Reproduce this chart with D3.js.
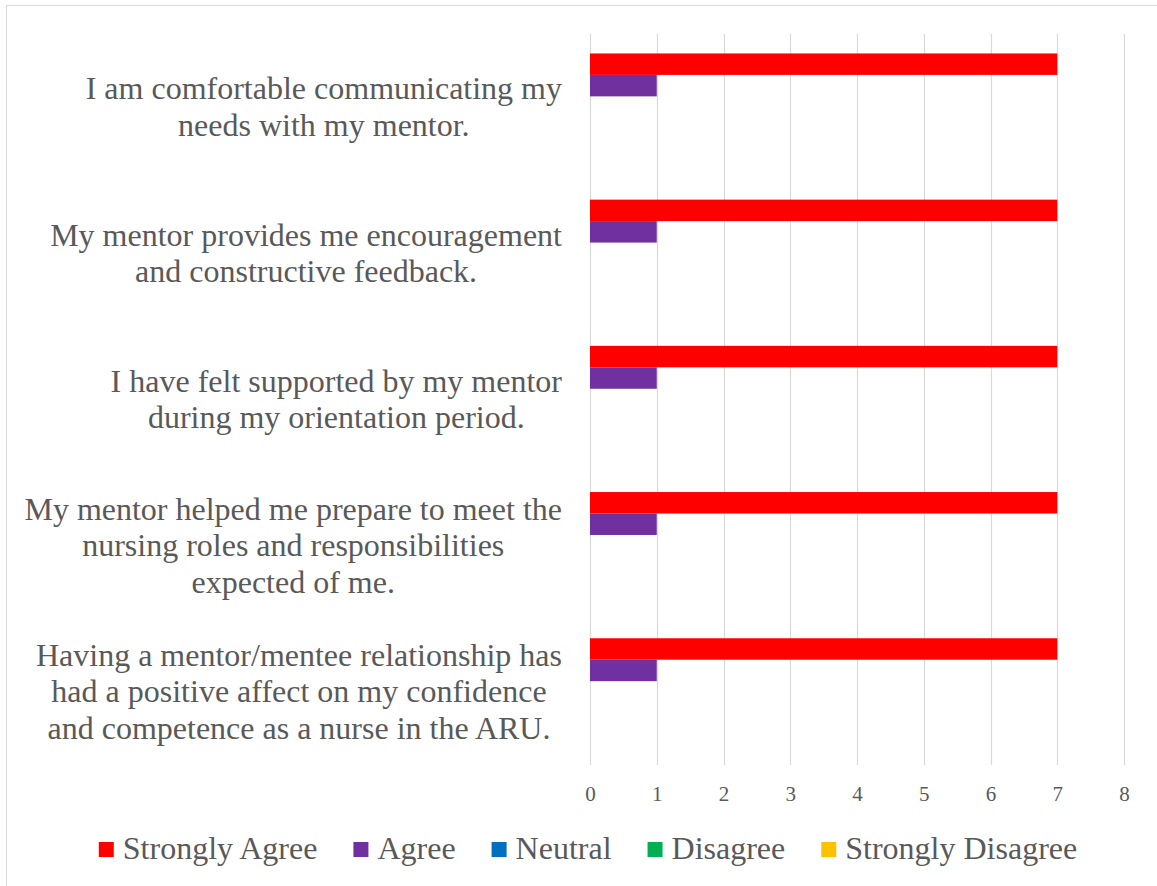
<!DOCTYPE html>
<html>
<head>
<meta charset="utf-8">
<script src="https://cdn.jsdelivr.net/npm/d3@7/dist/d3.min.js"></script>
<style>
  html, body { margin: 0; padding: 0; background: #fff; }
  svg { display: block; }
</style>
</head>
<body>
<svg id="chart" width="1157" height="886"></svg>
<script>
// ---- data ----
const categories = [
  ["I am comfortable communicating my", "needs with my mentor."],
  ["My mentor provides me encouragement", "and constructive feedback."],
  ["I have felt supported by my mentor", "during my orientation period."],
  ["My mentor helped me prepare to meet the", "nursing roles and responsibilities", "expected of me."],
  ["Having a mentor/mentee relationship has", "had a positive affect on my confidence", "and competence as a nurse in the ARU."]
];
const seriesNames = ["Strongly Agree", "Agree", "Neutral", "Disagree", "Strongly Disagree"];
const seriesColors = ["#FF0000", "#7030A0", "#0070C0", "#00B050", "#FFC000"];
const stronglyAgree = [7, 7, 7, 7, 7];
const agree = [1, 1, 1, 1, 1];
const neutral = [0, 0, 0, 0, 0];
const disagree = [0, 0, 0, 0, 0];
const stronglyDisagree = [0, 0, 0, 0, 0];
const xTicks = [0, 1, 2, 3, 4, 5, 6, 7, 8];

const seriesValues = [stronglyAgree, agree, neutral, disagree, stronglyDisagree];
const FONT = "'Liberation Serif', 'Times New Roman', serif";

// ---- layout ----
const svg = d3.select("#chart");
const plot = { left: 590, right: 1124, top: 34, bottom: 765 };

svg.append("rect")
  .attr("x", 6.5).attr("y", 5.5).attr("width", 1170).attr("height", 900)
  .attr("fill", "none").attr("stroke", "#d9d9d9").attr("stroke-width", 1);

const x = d3.scaleLinear().domain([0, 8]).range([plot.left, plot.right]);
const y = d3.scaleBand().domain(d3.range(categories.length)).range([plot.top, plot.bottom]).padding(0);
const gapHalf = y.bandwidth() * 0.133;
const ySub = d3.scaleBand().domain(d3.range(seriesNames.length))
  .range([gapHalf, y.bandwidth() - gapHalf]).padding(0);

// gridlines
svg.append("g").selectAll("line").data(xTicks).join("line")
  .attr("x1", d => Math.round(x(d)) + 0.5).attr("x2", d => Math.round(x(d)) + 0.5)
  .attr("y1", plot.top).attr("y2", plot.bottom)
  .attr("stroke", "#d9d9d9").attr("stroke-width", 1.2);

// x-axis labels
const xAxis = d3.axisBottom(x).tickValues(xTicks).tickSize(0).tickPadding(0).tickFormat(d3.format("d"));
const gx = svg.append("g").attr("transform", `translate(0,${plot.bottom})`).call(xAxis);
gx.select(".domain").remove();
gx.attr("font-family", null).attr("font-size", null);
gx.selectAll("text")
  .attr("y", 36).attr("dy", 0)
  .style("font-size", "21px")
  .style("font-family", FONT)
  .style("fill", "#595959");

// bars
seriesValues.forEach((vals, si) => {
  svg.append("g").selectAll("rect").data(vals).join("rect")
    .attr("x", x(0))
    .attr("y", (d, i) => y(i) + ySub(si))
    .attr("width", d => x(d) - x(0))
    .attr("height", ySub.bandwidth())
    .attr("fill", seriesColors[si]);
});

// category labels
const lineH = 36.5;
const labelRight = 562;
categories.forEach((lines, ci) => {
  const cy = y(ci) + y.bandwidth() / 2;
  const g = svg.append("g");
  const texts = g.selectAll("text").data(lines).join("text")
    .attr("text-anchor", "middle")
    .attr("y", (d, i) => cy + (i - (lines.length - 1) / 2) * lineH + 10.5)
    .style("font-size", "32px")
    .style("font-family", FONT)
    .style("fill", "#595959")
    .text(d => d);
  let maxW = 0;
  texts.each(function () { maxW = Math.max(maxW, this.getComputedTextLength()); });
  texts.attr("x", labelRight - maxW / 2);
});

// legend
const legend = svg.append("g");
const items = legend.selectAll("g").data(seriesNames).join("g");
items.append("rect").attr("width", 15).attr("height", 15).attr("y", 842)
  .attr("fill", (d, i) => seriesColors[i]);
items.append("text").attr("x", 24).attr("y", 859)
  .style("font-size", "32px").style("font-family", FONT).style("fill", "#595959")
  .text(d => d);
let cursor = 0;
const positions = [];
items.each(function () {
  const w = d3.select(this).select("text").node().getComputedTextLength();
  positions.push(cursor);
  cursor += 24 + w + 36;
});
const totalW = cursor - 36;
const startX = 588 - totalW / 2;
items.attr("transform", (d, i) => `translate(${startX + positions[i]},0)`);
</script>
</body>
</html>
